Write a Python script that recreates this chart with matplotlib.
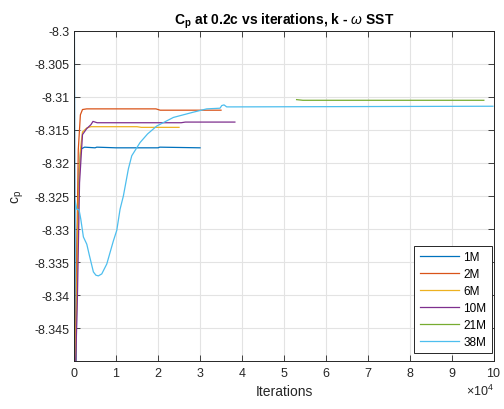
import matplotlib
matplotlib.use("Agg")
import matplotlib.pyplot as plt
from matplotlib.ticker import FixedLocator, FuncFormatter

plt.rcParams['font.family'] = ['Liberation Sans', 'DejaVu Sans']
plt.rcParams['axes.unicode_minus'] = False
plt.rcParams['mathtext.fontset'] = 'custom'
plt.rcParams['mathtext.rm'] = 'Liberation Sans'
plt.rcParams['mathtext.it'] = 'Liberation Sans:italic'
plt.rcParams['mathtext.bf'] = 'Liberation Sans:bold'

# iterations / cp per mesh
it_1m = [0, 300, 800, 1200, 1600, 2500, 5000, 5400, 10000, 20000, 20400, 30000]
cp_1m = [-8.28, -8.36, -8.33, -8.321, -8.3179, -8.3176, -8.3177, -8.3176, -8.3177, -8.3177, -8.3176, -8.3177]

it_2m = [0, 500, 1000, 1500, 2000, 3000, 10000, 19500, 20500, 35000]
cp_2m = [-8.36, -8.34, -8.318, -8.3127, -8.3119, -8.3118, -8.3118, -8.3118, -8.3120, -8.3120]

it_6m = [0, 500, 1000, 1500, 2000, 3000, 4000, 15000, 16000, 25000]
cp_6m = [-8.36, -8.345, -8.326, -8.318, -8.3153, -8.3147, -8.3145, -8.3145, -8.3146, -8.3146]

it_10m = [0, 800, 1300, 2000, 3000, 4000, 4500, 5500, 10000, 20000, 25500, 26500, 38300]
cp_10m = [-8.36, -8.34, -8.323, -8.3157, -8.3148, -8.3142, -8.3137, -8.3139, -8.3139, -8.3139, -8.3139, -8.3138, -8.3138]

it_21m = [53000, 54500, 97600]
cp_21m = [-8.3104, -8.3105, -8.3105]

it_38m = [0, 238, 643, 1190, 1595, 2214, 3024, 3643, 4595, 5200, 5786, 6595, 7786, 9357,
          10167, 10952, 11738, 12929, 13738, 15714, 17500, 19690, 23643, 28405, 31595,
          34762, 35167, 35714, 36357, 37857, 99762]
cp_38m = [-8.36, -8.3257, -8.3270, -8.3271, -8.3285, -8.3312, -8.3323, -8.3340, -8.3365,
          -8.3370, -8.3371, -8.3368, -8.3353, -8.3318, -8.3302, -8.3270, -8.3250, -8.3209,
          -8.3189, -8.3169, -8.3156, -8.3144, -8.3131, -8.3123, -8.3118, -8.3117, -8.3113,
          -8.3112, -8.3115, -8.3115, -8.3114]

labels = ['1M', '2M', '6M', '10M', '21M', '38M']
colors = ['#0072BD', '#D95319', '#EDB120', '#7E2F8E', '#77AC30', '#4DBEEE']
series = [(it_1m, cp_1m), (it_2m, cp_2m), (it_6m, cp_6m),
          (it_10m, cp_10m), (it_21m, cp_21m), (it_38m, cp_38m)]

yticks = [-8.3, -8.305, -8.31, -8.315, -8.32, -8.325, -8.33, -8.335, -8.34, -8.345]

fig = plt.figure(figsize=(5.04, 4.10), dpi=100)
ax = fig.add_axes([0.147, 0.117, 0.833, 0.805])

for (x, y), lab, c in zip(series, labels, colors):
    ax.plot(x, y, color=c, lw=0.9, label=lab)

ax.set_xlim(0, 100000)
ax.set_ylim(-8.35, -8.3)
ax.xaxis.set_major_locator(FixedLocator([i * 10000 for i in range(11)]))
ax.yaxis.set_major_locator(FixedLocator(yticks))
ax.yaxis.set_major_formatter(FuncFormatter(lambda v, p: '%g' % round(v, 4)))
ax.ticklabel_format(axis='x', style='sci', scilimits=(4, 4), useMathText=True)

ax.grid(True, color='#e3e3e3', lw=0.8)
ax.set_axisbelow(True)
ax.tick_params(direction='in', top=True, right=True, labelsize=9, length=4,
               width=0.6, colors='#262626')
for s in ax.spines.values():
    s.set_color('#262626')
    s.set_linewidth(0.7)

ax.set_title(r'C$_\mathbf{p}$ at 0.2c vs iterations, k - $\omega$ SST',
             fontsize=10, fontweight='bold', pad=5)
ax.set_xlabel('Iterations', fontsize=10, color='#262626')
ax.set_ylabel(r'c$_\mathrm{p}$', fontsize=10, color='#262626', labelpad=6)
ax.xaxis.get_offset_text().set_fontsize(9)

leg = ax.legend(loc='lower right', bbox_to_anchor=(0.995, 0.024), borderaxespad=0,
                fontsize=8.5, fancybox=False, framealpha=1, edgecolor='#262626',
                handlelength=3.3, handletextpad=0.4, labelspacing=0.42,
                borderpad=0.45)
leg.get_frame().set_linewidth(0.7)

fig.savefig('out.png', dpi=100)
